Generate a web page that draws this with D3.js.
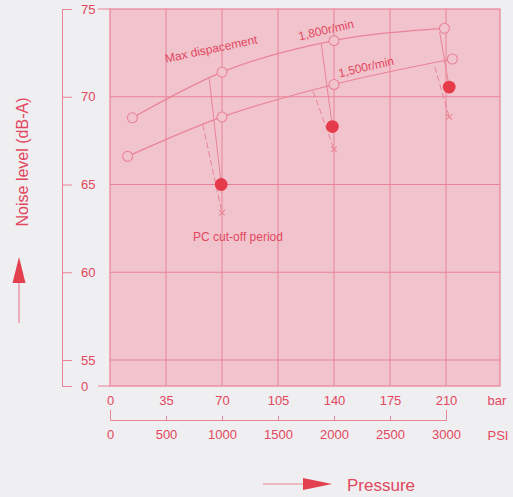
<!DOCTYPE html>
<html>
<head>
<meta charset="utf-8">
<script src="https://cdnjs.cloudflare.com/ajax/libs/d3/7.8.5/d3.min.js"></script>
<style>
  body { margin: 0; background: #efeef0; }
  svg { display: block; font-family: "Liberation Sans", Arial, sans-serif; }
</style>
</head>
<body>
<svg id="chart" width="513" height="497"></svg>
<script>
// values
const barTicks = [0, 35, 70, 105, 140, 175, 210];
const psiTicks = [0, 500, 1000, 1500, 2000, 2500, 3000];
const noiseTicks = [0, 55, 60, 65, 70, 75];

const rpm1800Bar = [14, 70, 140, 209];
const rpm1800Noise = [68.8, 71.4, 73.2, 73.9];
const rpm1500Bar = [11, 70, 140, 214];
const rpm1500Noise = [66.6, 68.85, 70.7, 72.15];

const cutoffBar = [69.5, 139, 212];
const cutoffNoise = [65.0, 68.3, 70.55];
const crossBar = [70, 140, 212];
const crossNoise = [63.4, 67.0, 68.85];

// where the slanted lines leave the curves
const solidStartBar = [62, 132, 206];
const solidStartNoise = [71.05, 73.05, 73.7];
const dashStartBar = [58, 127, 203];
const dashStartNoise = [68.4, 70.3, 71.7];

const red = '#e2475e';
const pink = '#e98397';
const plotBg = '#f1c4cd';

var svg = d3.select('#chart');
var plotL = 110, plotR = 500, plotT = 9, plotB = 386;

var x = d3.scaleLinear().domain([0, 210]).range([plotL, 446]);
var xPsi = d3.scaleLinear().domain([0, 3000]).range([plotL, 446]);
// broken axis: 0 then 55..75
var y = d3.scaleLinear().domain([0, 55, 75]).range([plotB, 360, plotT]);

svg.append('rect')
    .attr('x', plotL).attr('y', plotT)
    .attr('width', plotR - plotL).attr('height', plotB - plotT)
    .attr('fill', plotBg)
    .attr('stroke', pink).attr('stroke-width', 1.2);

// grid
svg.append('g').selectAll('line').data(barTicks.slice(1)).enter().append('line')
    .attr('x1', function(d) {return x(d)}).attr('x2', function(d) {return x(d)})
    .attr('y1', plotT).attr('y2', plotB)
    .attr('stroke', pink).attr('stroke-width', 1);
svg.append('g').selectAll('line').data([55, 60, 65, 70]).enter().append('line')
    .attr('x1', plotL).attr('x2', plotR)
    .attr('y1', function(d) {return y(d)}).attr('y2', function(d) {return y(d)})
    .attr('stroke', pink).attr('stroke-width', 1);

// left axis
var yAxis = svg.append('g').attr('transform', 'translate(62,0)')
    .call(d3.axisRight(y).tickValues(noiseTicks).tickSizeInner(10).tickSizeOuter(0).tickPadding(9));
yAxis.selectAll('path, line').attr('stroke', pink);
yAxis.selectAll('text').attr('fill', red).style('font-size', '13px');
svg.selectAll('.conn').data([0, 75]).enter().append('line')
    .attr('x1', 98).attr('x2', plotL)
    .attr('y1', function(d) {return y(d)}).attr('y2', function(d) {return y(d)})
    .attr('stroke', pink);

// bar axis
var xAxis = svg.append('g').attr('transform', 'translate(0,' + plotB + ')')
    .call(d3.axisBottom(x).tickValues(barTicks).tickSize(0).tickPadding(10));
xAxis.select('.domain').remove();
xAxis.selectAll('text').attr('fill', red).style('font-size', '13px');
svg.append('text').attr('x', 497).attr('y', 405).attr('text-anchor', 'middle')
    .attr('fill', red).style('font-size', '13px').text('bar');

// psi axis
var psiAxis = svg.append('g').attr('transform', 'translate(0,420)')
    .call(d3.axisBottom(xPsi).tickValues(psiTicks).tickFormat(d3.format('d'))
        .tickSizeInner(-4).tickSizeOuter(-10).tickPadding(10));
psiAxis.selectAll('path, line').attr('stroke', pink);
psiAxis.selectAll('text').attr('fill', red).style('font-size', '13px');
svg.append('text').attr('x', 498).attr('y', 440).attr('text-anchor', 'middle')
    .attr('fill', red).style('font-size', '13px').text('PSI');

// curves
var line = d3.line().x(function(d) {return x(d[0])}).y(function(d) {return y(d[1])}).curve(d3.curveMonotoneX);
[[rpm1800Bar, rpm1800Noise], [rpm1500Bar, rpm1500Noise]].forEach(function(s) {
    svg.append('path')
        .datum(d3.zip(s[0], s[1]))
        .attr('d', line)
        .attr('fill', 'none').attr('stroke', pink).attr('stroke-width', 1.2);
});

// slanted cut-off lines
svg.append('g').selectAll('line').data(cutoffBar).enter().append('line')
    .attr('x1', function(d, i) {return x(solidStartBar[i])})
    .attr('y1', function(d, i) {return y(solidStartNoise[i])})
    .attr('x2', function(d) {return x(d)})
    .attr('y2', function(d, i) {return y(cutoffNoise[i])})
    .attr('stroke', pink).attr('stroke-width', 1);
svg.append('g').selectAll('line').data(crossBar).enter().append('line')
    .attr('x1', function(d, i) {return x(dashStartBar[i])})
    .attr('y1', function(d, i) {return y(dashStartNoise[i])})
    .attr('x2', function(d) {return x(d)})
    .attr('y2', function(d, i) {return y(crossNoise[i])})
    .attr('stroke', pink).attr('stroke-width', 1).attr('stroke-dasharray', '6,3');

// open circles
[[rpm1800Bar, rpm1800Noise], [rpm1500Bar, rpm1500Noise]].forEach(function(s) {
    svg.append('g').selectAll('circle').data(s[0]).enter().append('circle')
        .attr('cx', function(d) {return x(d)})
        .attr('cy', function(d, i) {return y(s[1][i])})
        .attr('r', 5)
        .attr('fill', plotBg).attr('stroke', pink).attr('stroke-width', 1.1);
});

// crosses
svg.append('g').selectAll('path').data(crossBar).enter().append('path')
    .attr('d', d3.symbol().type(d3.symbolX).size(22))
    .attr('transform', function(d, i) {return 'translate(' + x(d) + ',' + y(crossNoise[i]) + ')'})
    .attr('fill', 'none').attr('stroke', pink).attr('stroke-width', 1.1);

// filled dots
svg.append('g').selectAll('circle').data(cutoffBar).enter().append('circle')
    .attr('cx', function(d) {return x(d)})
    .attr('cy', function(d, i) {return y(cutoffNoise[i])})
    .attr('r', 6.4)
    .attr('fill', '#e63b4a');

// labels in plot
function label(txt, cx, cy, rot) {
    svg.append('text')
        .attr('transform', 'translate(' + cx + ',' + cy + ') rotate(' + rot + ')')
        .attr('text-anchor', 'middle')
        .attr('fill', red).style('font-size', '12px')
        .text(txt);
}
label('Max dispacement', 212, 53, -12);
label('1,800r/min', 327, 34, -13);
label('1,500r/min', 367, 71, -13);
label('PC cut-off period', 238, 241, 0);

// y title and arrow
svg.append('text')
    .attr('transform', 'translate(28,162) rotate(-90)')
    .attr('text-anchor', 'middle')
    .attr('fill', red).style('font-size', '16px')
    .text('Noise level (dB-A)');
svg.append('line').attr('x1', 19).attr('x2', 19).attr('y1', 280).attr('y2', 323)
    .attr('stroke', pink).attr('stroke-width', 1.2);
svg.append('path').attr('d', 'M19,257 L25.5,283 L12.5,283 Z').attr('fill', '#e2404f');

// x title and arrow
svg.append('line').attr('x1', 263).attr('x2', 306).attr('y1', 484).attr('y2', 484)
    .attr('stroke', pink).attr('stroke-width', 1.2);
svg.append('path').attr('d', 'M303,478 L332,484 L303,490 Z').attr('fill', '#e2404f');
svg.append('text').attr('x', 347).attr('y', 491)
    .attr('fill', red).style('font-size', '17px').text('Pressure');
</script>
</body>
</html>
